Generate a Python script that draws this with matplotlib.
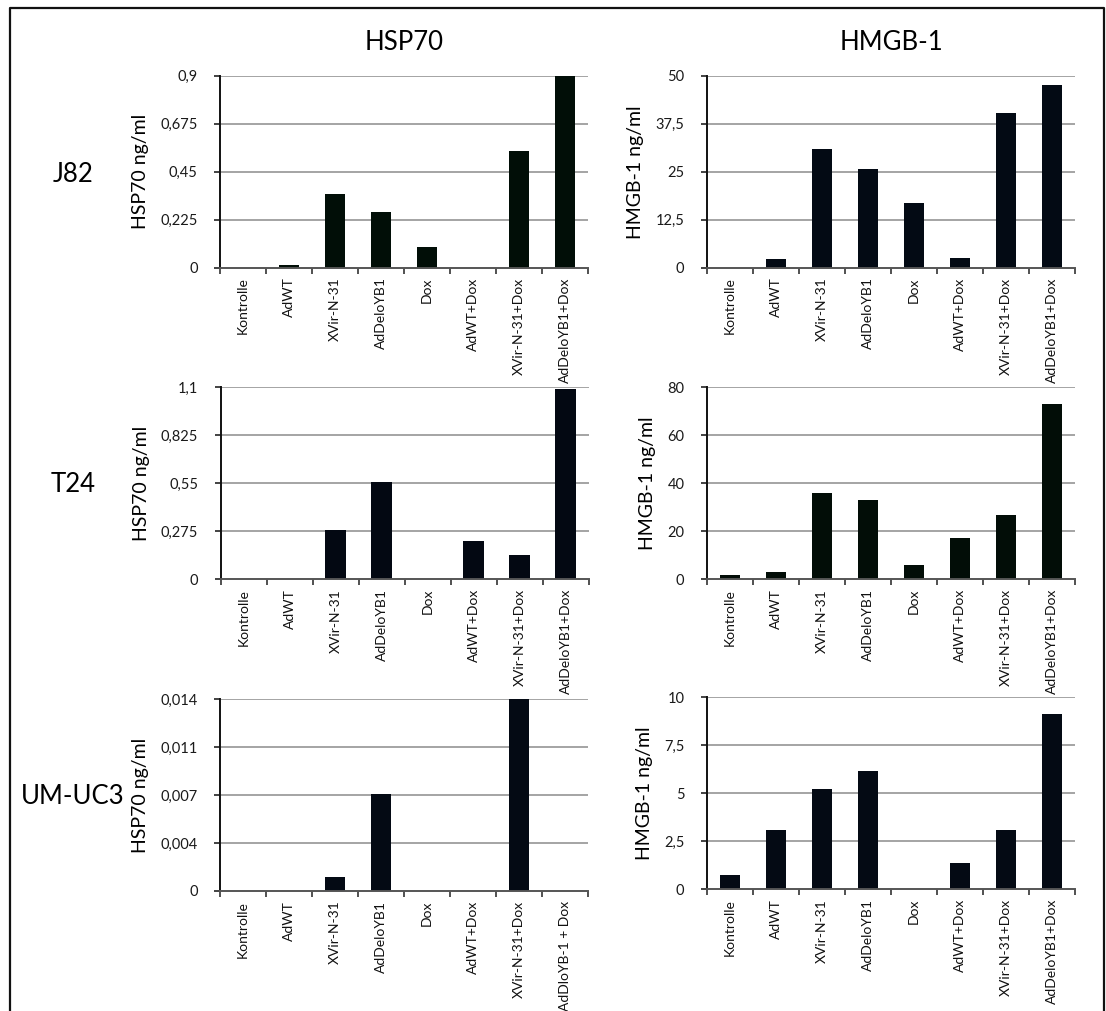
import numpy as np
import matplotlib
matplotlib.use("Agg")
import matplotlib.pyplot as plt
from matplotlib.lines import Line2D

plt.rcParams['font.family'] = ['Lato', 'DejaVu Sans']

cats = ["Kontrolle", "AdWT", "XVir-N-31", "AdDeloYB1", "Dox",
        "AdWT+Dox", "XVir-N-31+Dox", "AdDeloYB1+Dox"]
cats_um_hsp = ["Kontrolle", "AdWT", "XVir-N-31", "AdDeloYB1", "Dox",
               "AdWT+Dox", "XVir-N-31+Dox", "AdDloYB-1 + Dox"]

rows = ["J82", "T24", "UM-UC3"]
cols = ["HSP70", "HMGB-1"]

j82_hsp70 = [0, 0.011, 0.344, 0.26, 0.096, 0, 0.547, 0.9]
j82_hmgb1 = [0, 2.3, 30.9, 25.7, 16.8, 2.5, 40.3, 47.6]
t24_hsp70 = [0, 0, 0.283, 0.556, 0, 0.22, 0.139, 1.089]
t24_hmgb1 = [1.8, 3.1, 35.8, 33.1, 6.0, 17.2, 26.8, 73.1]
umuc3_hsp70 = [0, 0, 0.00105, 0.00705, 0, 0, 0.014, 0]
umuc3_hmgb1 = [0.73, 3.11, 5.22, 6.16, 0, 1.36, 3.11, 9.13]

j82_hsp70_ticks = [0, 0.225, 0.45, 0.675, 0.9]
j82_hsp70_lab = ["0", "0,225", "0,45", "0,675", "0,9"]
j82_hmgb1_ticks = [0, 12.5, 25, 37.5, 50]
j82_hmgb1_lab = ["0", "12,5", "25", "37,5", "50"]
t24_hsp70_ticks = [0, 0.275, 0.55, 0.825, 1.1]
t24_hsp70_lab = ["0", "0,275", "0,55", "0,825", "1,1"]
t24_hmgb1_ticks = [0, 20, 40, 60, 80]
t24_hmgb1_lab = ["0", "20", "40", "60", "80"]
umuc3_hsp70_ticks = [0, 0.0035, 0.007, 0.0105, 0.014]
umuc3_hsp70_lab = ["0", "0,004", "0,007", "0,011", "0,014"]
umuc3_hmgb1_ticks = [0, 2.5, 5, 7.5, 10]
umuc3_hmgb1_lab = ["0", "2,5", "5", "7,5", "10"]

W, H = 1106, 1011
fig = plt.figure(figsize=(W / 100, H / 100), dpi=100)

# (values, labels, ticks, ticklabels, ylabel, left px, top px, bar colour)
panels = [
    (j82_hsp70, cats, j82_hsp70_ticks, j82_hsp70_lab, "HSP70 ng/ml", 220, 75.7, "#010e07"),
    (j82_hmgb1, cats, j82_hmgb1_ticks, j82_hmgb1_lab, "HMGB-1 ng/ml", 706.7, 75.7, "#030a14"),
    (t24_hsp70, cats, t24_hsp70_ticks, t24_hsp70_lab, "HSP70 ng/ml", 220.5, 387.3, "#030812"),
    (t24_hmgb1, cats, t24_hmgb1_ticks, t24_hmgb1_lab, "HMGB-1 ng/ml", 706.7, 387.3, "#020d07"),
    (umuc3_hsp70, cats_um_hsp, umuc3_hsp70_ticks, umuc3_hsp70_lab, "HSP70 ng/ml", 220, 699, "#040a14"),
    (umuc3_hmgb1, cats, umuc3_hmgb1_ticks, umuc3_hmgb1_lab, "HMGB-1 ng/ml", 706.7, 697.3, "#040a14"),
]

axes = []
for vals, labels, yt, ytl, ylab, lpx, tpx, col in panels:
    ax = fig.add_axes([lpx / W, 1 - (tpx + 192) / H, 368 / W, 192 / H])
    x = np.arange(len(vals))
    ax.bar(x, vals, width=0.44, color=col, zorder=3)
    ax.set_xlim(-0.5, len(vals) - 0.5)
    ax.set_ylim(yt[0], yt[-1])
    ax.set_yticks(yt)
    ax.set_yticklabels(ytl, fontsize=10.5, color="#1a1a1a")
    for y in yt[1:]:
        ax.axhline(y, color="#8c8c8c", lw=1.1, zorder=1)
    ax.set_xticks(x)
    ax.set_xticklabels(labels, rotation=90, fontsize=10, va="top", color="#111111")
    ax.set_xticks(np.arange(len(vals) + 1) - 0.5, minor=True)
    ax.tick_params(axis="x", which="major", length=0, pad=7)
    ax.tick_params(axis="x", which="minor", length=4, width=1.2, direction="out", color="#333333")
    ax.tick_params(axis="y", length=4, width=1.2, direction="out", pad=12, color="#222222")
    ax.set_ylabel(ylab, fontsize=14, labelpad=8)
    for s in ["top", "right"]:
        ax.spines[s].set_visible(False)
    ax.spines["left"].set_color("#111111")
    ax.spines["left"].set_linewidth(1.4)
    ax.spines["bottom"].set_color("#555555")
    ax.spines["bottom"].set_linewidth(1.4)
    ax.spines["bottom"].set_zorder(4)
    axes.append(ax)

# column titles and row labels
fig.text(404 / W, 1 - 42 / H, cols[0], fontsize=18.5, ha="center", va="center")
fig.text(891 / W, 1 - 42 / H, cols[1], fontsize=18.5, ha="center", va="center")
row_y = [175, 485, 796]
for name, ry in zip(rows, row_y):
    fig.text(73 / W, 1 - ry / H, name, fontsize=18.5, ha="center", va="center")

# outer frame (open at the bottom)
fx = [10 / W, 10 / W, 1104 / W, 1104 / W]
fy = [0, 1 - 8 / H, 1 - 8 / H, 0]
fig.add_artist(Line2D(fx, fy, color="#111111", lw=1.6))

fig.savefig("out.png", dpi=100)
